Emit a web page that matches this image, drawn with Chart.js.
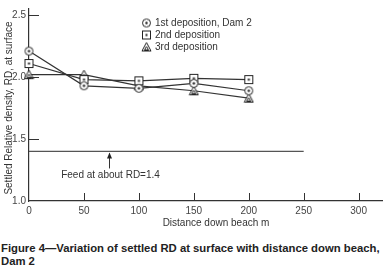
<!DOCTYPE html>
<html><head><meta charset="utf-8">
<script src="https://cdn.jsdelivr.net/npm/chart.js@4"></script>
<style>
html,body{margin:0;padding:0;background:#fff;}
#wrap{position:relative;width:389px;height:232px;}
#cap{position:absolute;left:1px;top:242px;width:388px;white-space:nowrap;font:bold 11.3px "Liberation Sans",Arial,sans-serif;line-height:13px;color:#222;}
</style></head>
<body>
<div id="wrap"><canvas id="c" width="389" height="232"></canvas></div>
<div id="cap">Figure 4—Variation of settled RD at surface with distance down beach,<br>Dam 2</div>
<script>
const distances = [0, 50, 100, 150, 200];
const dep1 = [2.21, 1.93, 1.91, 1.95, 1.89];
const dep2 = [2.11, 1.98, 1.97, 1.99, 1.98];
const dep3 = [2.02, 2.02, 1.93, 1.89, 1.83];
const seriesNames = ['1st deposition, Dam 2', '2nd deposition', '3rd deposition'];
const feedX = [0, 250];
const feedRD = 1.4;
const feedArrowX = 73;
const feedLabel = 'Feed at about RD=1.4';
const xTicks = [0, 50, 100, 150, 200, 250, 300];
const yTicks = [1.0, 1.5, 2.0, 2.5];
const xTitle = 'Distance down beach m';
const yTitle = 'Settled Relative density, RD, at surface';

function mk(kind){
  const c=document.createElement('canvas');c.width=11;c.height=11;
  const g=c.getContext('2d');g.strokeStyle='#222';g.fillStyle='#fff';g.lineWidth=1;
  if(kind==='circle'){g.beginPath();g.arc(5.5,5.5,4,0,Math.PI*2);g.fill();g.stroke();
    g.fillStyle='#222';g.beginPath();g.arc(5.5,5.5,1.2,0,Math.PI*2);g.fill();}
  else if(kind==='square'){g.fillRect(1.5,1.5,8,8);g.strokeRect(1.5,1.5,8,8);
    g.fillStyle='#222';g.fillRect(4.5,4.5,2,2);}
  else {g.beginPath();g.moveTo(5.5,1);g.lineTo(10,9.5);g.lineTo(1,9.5);g.closePath();g.fill();g.stroke();
    g.beginPath();g.moveTo(5.5,5);g.lineTo(7.5,8.5);g.lineTo(3.5,8.5);g.closePath();g.stroke();}
  return c;
}
const imgs=[mk('circle'),mk('square'),mk('triangle')];
const pts=(arr)=>distances.map((d,i)=>({x:d,y:arr[i]}));

const custom={
  id:'custom',
  afterDraw(chart){
    const {ctx,scales:{x,y},chartArea:a}=chart;
    ctx.save();
    ctx.strokeStyle='#333';ctx.lineWidth=1;
    xTicks.forEach(v=>{if(v===0)return;const px=Math.round(x.getPixelForValue(v))+0.5;
      ctx.beginPath();ctx.moveTo(px,a.bottom);ctx.lineTo(px,a.bottom-8);ctx.stroke();});
    yTicks.forEach(v=>{if(v===1.0)return;const py=Math.round(y.getPixelForValue(v))+0.5;
      ctx.beginPath();ctx.moveTo(a.left,py);ctx.lineTo(a.left+10,py);ctx.stroke();});
    const ax=Math.round(x.getPixelForValue(feedArrowX))+0.5, ay=y.getPixelForValue(feedRD);
    ctx.beginPath();ctx.moveTo(ax,ay+2);ctx.lineTo(ax,ay+17);ctx.stroke();
    ctx.fillStyle='#222';ctx.beginPath();ctx.moveTo(ax,ay+1);ctx.lineTo(ax-2.5,ay+7);ctx.lineTo(ax+2.5,ay+7);ctx.closePath();ctx.fill();
    ctx.font='10px "Liberation Sans", Arial, sans-serif';ctx.fillStyle='#333';
    ctx.textAlign='center';ctx.textBaseline='middle';
    ctx.fillText(feedLabel,ax+1,ay+24);
    ctx.textAlign='left';
    seriesNames.forEach((n,i)=>{const ly=23+i*12;
      ctx.drawImage(imgs[i],141,ly-5.5);ctx.fillText(n,155,ly);});
    ctx.textAlign='center';
    ctx.fillText(xTitle,216,223);
    ctx.translate(9,108);ctx.rotate(-Math.PI/2);ctx.fillText(yTitle,0,0);
    ctx.restore();
  }
};

const lineDs=(label,arr,img)=>({label,data:pts(arr),borderColor:'#333',borderWidth:1.2,
  pointStyle:img,pointRadius:5,pointHoverRadius:5,tension:0,fill:false,clip:false});

new Chart(document.getElementById('c'),{
  type:'line',
  data:{datasets:[
    {label:'feed',data:feedX.map(v=>({x:v,y:feedRD})),borderColor:'#555',borderWidth:1.2,pointRadius:0,fill:false},
    lineDs(seriesNames[0],dep1,imgs[0]),
    lineDs(seriesNames[1],dep2,imgs[1]),
    lineDs(seriesNames[2],dep3,imgs[2])
  ]},
  options:{
    responsive:false,animation:false,
    layout:{padding:{top:5,right:5,left:0,bottom:0}},
    plugins:{legend:{display:false},tooltip:{enabled:false}},
    scales:{
      x:{type:'linear',min:0,max:322,
        afterBuildTicks(s){s.ticks=xTicks.map(v=>({value:v}));},
        afterFit(s){s.height=31;},
        grid:{display:false,drawTicks:false},
        border:{display:true,color:'#333',width:1.2},
        ticks:{padding:4,color:'#444',font:{size:10,family:'"Liberation Sans", Arial, sans-serif'},maxRotation:0,
          callback:v=>String(v)}},
      y:{type:'linear',min:1.0,max:2.55,
        afterBuildTicks(s){s.ticks=yTicks.map(v=>({value:v}));},
        afterFit(s){s.width=29;},
        grid:{display:false,drawTicks:false},
        border:{display:true,color:'#333',width:1.2},
        ticks:{padding:3,color:'#444',font:{size:10,family:'"Liberation Sans", Arial, sans-serif'},
          callback:v=>Number(v).toFixed(1)}}
    }
  },
  plugins:[custom]
});
</script>
</body></html>
